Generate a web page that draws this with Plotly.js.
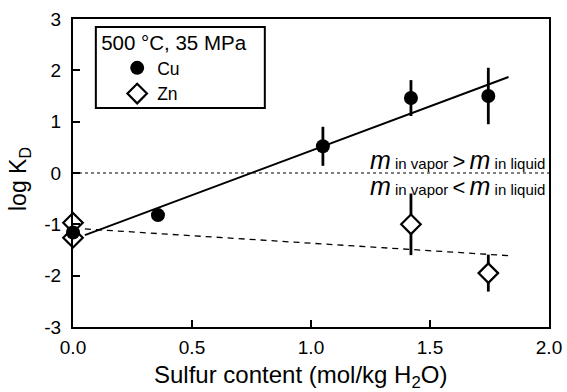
<!DOCTYPE html>
<html>
<head>
<meta charset="utf-8">
<script src="https://cdn.plot.ly/plotly-3.0.1.min.js"></script>
<style>html,body{margin:0;padding:0;background:#fff;}#chart{width:567px;height:392px;}</style>
</head>
<body>
<div id="chart"></div>
<script>
// Data
const cuX = [0.0, 0.357, 1.05, 1.42, 1.745];
const cuY = [-1.16, -0.82, 0.52, 1.46, 1.50];
const cuErr = [0, 0, 0.38, 0.35, 0.55];
const znX = [0.0, 0.0, 1.42, 1.745];
const znY = [-0.97, -1.26, -1.00, -1.95];
const znErr = [0, 0, 0.60, 0.36];
const fitX = [0.05, 1.83];
const cuFitY = [-1.21, 1.87];
const znFitY = [-1.09, -1.61];
const boundaryY = 0;
const xTickVals = [0, 0.5, 1, 1.5, 2];
const xTickText = ['0.0', '0.5', '1.0', '1.5', '2.0'];
const yTickVals = [-3, -2, -1, 0, 1, 2, 3];
const yTickText = ['-3', '-2', '-1', '0', '1', '2', '3'];
const legendTitle = "500 °C, 35 MPa";
const xTitle = 'Sulfur content (mol/kg H<sub>2</sub>O)';
const yTitle = 'log K<sub>D</sub>';

const font = "Liberation Sans, Arial, Helvetica, sans-serif";

const traces = [
  {x: fitX, y: cuFitY, mode: 'lines', line: {color: '#000', width: 2}, showlegend: false, hoverinfo: 'skip'},
  {x: fitX, y: znFitY, mode: 'lines', line: {color: '#000', width: 1.3, dash: '6px,5px'}, showlegend: false, hoverinfo: 'skip'},
  {x: znX, y: znY, mode: 'markers', name: 'Zn', cliponaxis: false,
   error_y: {type: 'data', array: znErr, visible: true, color: '#000', thickness: 2.8, width: 0},
   marker: {symbol: 'diamond', size: 15, color: '#fff', line: {color: '#000', width: 2.2}}},
  {x: cuX, y: cuY, mode: 'markers', name: 'Cu', cliponaxis: false,
   error_y: {type: 'data', array: cuErr, visible: true, color: '#000', thickness: 2.8, width: 0},
   marker: {symbol: 'circle', size: 14, color: '#000'}}
];

const layout = {
  width: 567, height: 392,
  margin: {l: 73, r: 18, t: 19, b: 65},
  paper_bgcolor: '#fff', plot_bgcolor: '#fff',
  font: {family: font, size: 19, color: '#000'},
  showlegend: true,
  legend: {
    x: 0.055, y: 0.986, xanchor: 'left', yanchor: 'top',
    bgcolor: 'rgba(0,0,0,0)', borderwidth: 0,
    traceorder: 'reversed', indentation: 18,
    title: {text: legendTitle, font: {size: 20.5, family: font}},
    font: {size: 17.5, family: font},
    itemwidth: 30, tracegroupgap: 0
  },
  xaxis: {
    range: [0, 2], tickvals: xTickVals, ticktext: xTickText,
    showgrid: false, zeroline: false,
    showline: true, linecolor: '#000', linewidth: 2, mirror: true,
    ticks: 'inside', ticklen: 7, tickwidth: 2, tickcolor: '#000',
    tickfont: {size: 19}, ticklabelstandoff: 2
  },
  yaxis: {
    range: [-3, 3], tickvals: yTickVals, ticktext: yTickText,
    showgrid: false, zeroline: false,
    showline: true, linecolor: '#000', linewidth: 2, mirror: true,
    ticks: 'inside', ticklen: 7, tickwidth: 2, tickcolor: '#000',
    tickfont: {size: 19}, ticklabelstandoff: 6
  },
  shapes: [
    {type: 'line', xref: 'paper', x0: 0, x1: 1, yref: 'y', y0: boundaryY, y1: boundaryY,
     line: {color: '#000', width: 1.2, dash: 'dot'}, layer: 'below'},
    {type: 'rect', xref: 'paper', yref: 'paper', x0: 0.048, x1: 0.403, y0: 0.711, y1: 0.974,
     line: {color: '#000', width: 2}, fillcolor: '#fff', layer: 'below'}
  ],
  annotations: [
    {xref: 'paper', x: 0.995, xanchor: 'right', yref: 'y', y: boundaryY, yanchor: 'bottom', yshift: -3,
     showarrow: false, font: {size: 15, family: font},
     text: "<span style='font-size:25px'><i>m</i></span> in vapor <span style='font-size:22px'>&gt;</span> <span style='font-size:25px'><i>m</i></span> in liquid"},
    {xref: 'paper', x: 0.995, xanchor: 'right', yref: 'y', y: boundaryY, yanchor: 'top', yshift: 3,
     showarrow: false, font: {size: 15, family: font},
     text: "<span style='font-size:25px'><i>m</i></span> in vapor <span style='font-size:22px'>&lt;</span> <span style='font-size:25px'><i>m</i></span> in liquid"},
    {xref: 'paper', yref: 'paper', x: 0.477, y: -0.162, xanchor: 'center', yanchor: 'middle',
     showarrow: false, font: {size: 24, family: font}, text: xTitle},
    {xref: 'paper', yref: 'paper', x: -0.111, y: 0.481, xanchor: 'center', yanchor: 'middle',
     textangle: -90, showarrow: false, font: {size: 23, family: font}, text: yTitle}
  ]
};

Plotly.newPlot('chart', traces, layout, {displayModeBar: false, staticPlot: true});
</script>
</body>
</html>
